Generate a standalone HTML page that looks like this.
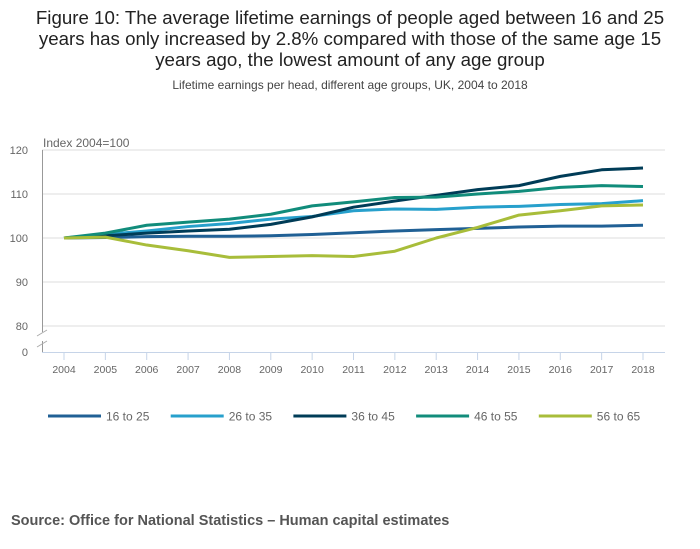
<!DOCTYPE html>
<html><head><meta charset="utf-8"><style>
body{margin:0;background:#fff;font-family:"Liberation Sans",sans-serif;}
#wrap{position:relative;width:700px;height:549px;overflow:hidden;}
.title{position:absolute;left:0;width:700px;top:7px;text-align:center;font-size:18.7px;line-height:21px;color:#222;}
.sub{position:absolute;left:0;width:700px;top:78px;text-align:center;font-size:12px;color:#444;}
.src{position:absolute;left:11px;top:513px;font-size:14.5px;font-weight:bold;color:#555;}
</style></head><body>
<div id="wrap">
<div class="title">Figure 10: The average lifetime earnings of people aged between 16 and 25<br>years has only increased by 2.8% compared with those of the same age 15<br>years ago, the lowest amount of any age group</div>
<div class="sub">Lifetime earnings per head, different age groups, UK, 2004 to 2018</div>
<svg id="chart" width="700" height="549" style="position:absolute;left:0;top:0"></svg>
<div class="src">Source: Office for National Statistics – Human capital estimates</div>
</div>
<script>
const years=[2004,2005,2006,2007,2008,2009,2010,2011,2012,2013,2014,2015,2016,2017,2018];
const yTicks=[80,90,100,110,120];
const seriesNames=["16 to 25","26 to 35","36 to 45","46 to 55","56 to 65"];
const s16to25=[100,100.1,100.3,100.4,100.4,100.5,100.8,101.2,101.6,101.9,102.2,102.5,102.7,102.7,102.9];
const s26to35=[100,100.8,101.6,102.6,103.3,104.3,104.9,106.2,106.6,106.5,107,107.2,107.6,107.8,108.5];
const s36to45=[100,100.5,101.1,101.6,102,103.1,104.8,107,108.4,109.7,111,111.9,114,115.5,115.9];
const s46to55=[100,101.1,102.9,103.6,104.3,105.4,107.3,108.2,109.2,109.3,110,110.6,111.5,111.9,111.7];
const s56to65=[100,100.2,98.4,97.1,95.6,95.8,96,95.8,97,100,102.4,105.2,106.2,107.3,107.5];
const seriesData=[s16to25,s26to35,s36to45,s46to55,s56to65];
const colors=["#206095","#27a0cc","#003c57","#118c7b","#a8bd3a"];
const NS="http://www.w3.org/2000/svg";
const svg=document.getElementById('chart');
const xs=y=>64+(y-2004)*(643-64)/14;
const ys=v=>238-(v-100)*4.4;
function el(t,a,p){const e=document.createElementNS(NS,t);for(const k in a)e.setAttribute(k,a[k]);(p||svg).appendChild(e);return e;}
yTicks.forEach(v=>{
 const g=el('line',{x1:42,x2:665,y1:ys(v),y2:ys(v),stroke:'#ddd','stroke-width':1});
 
 
 const t=el('text',{x:28,y:ys(v)+4,'text-anchor':'end','font-size':11,fill:'#666'});
 t.textContent=v;
 
 
});
const z=el('text',{x:28,y:356,'text-anchor':'end','font-size':11,fill:'#666'});z.textContent='0';


const yl=el('text',{x:43,y:147,'font-size':12,fill:'#666'});yl.textContent='Index 2004=100';


el('line',{x1:42.5,x2:42.5,y1:150,y2:332,stroke:'#999','stroke-width':1});
el('line',{x1:42.5,x2:42.5,y1:341,y2:352,stroke:'#999','stroke-width':1});
el('line',{x1:37,x2:47,y1:336,y2:330,stroke:'#aaa','stroke-width':1});
el('line',{x1:37,x2:47,y1:347,y2:341,stroke:'#aaa','stroke-width':1});
const xa=el('line',{x1:42,x2:665,y1:352.5,y2:352.5,stroke:'#c6d4e8','stroke-width':1});


years.forEach(y=>{
 el('line',{x1:xs(y),x2:xs(y),y1:352,y2:360,stroke:'#c6d4e8','stroke-width':1});
 const t=el('text',{x:xs(y),y:373,'text-anchor':'middle','font-size':10.5,fill:'#666'});
 t.textContent=y;
 
 
});
seriesData.forEach((d,i)=>{
 const p=el('polyline',{points:d.map((v,j)=>xs(years[j])+','+ys(v)).join(' '),fill:'none',stroke:colors[i],'stroke-width':3,'stroke-linejoin':'round'});
 
 
});
seriesNames.forEach((n,i)=>{
 const x0=48+i*122.7;
 const g=el('g',{});
 
 
 el('line',{x1:x0,x2:x0+53,y1:416,y2:416,stroke:colors[i],'stroke-width':3},g);
 const t=el('text',{x:x0+58,y:420.5,'font-size':12,fill:'#666'},g);
 t.textContent=n;
});
</script>
</body></html>
